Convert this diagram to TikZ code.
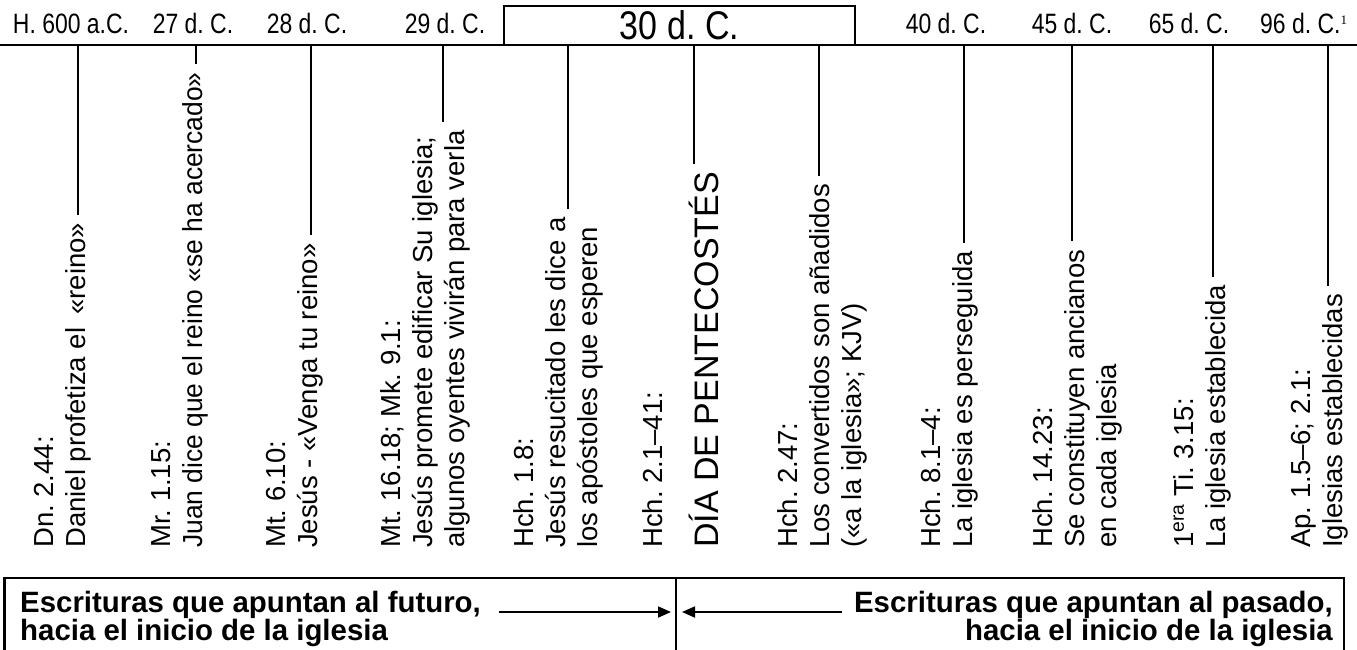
\documentclass[tikz,border=0pt]{standalone}
\usepackage{fontspec}
\setmainfont{Liberation Sans}
\newfontfamily\narrowfont[FakeStretch=0.82]{Liberation Sans}
\newfontfamily\bignarrow[FakeStretch=0.85]{Liberation Sans}
\newfontfamily\mrfont[FakeStretch=0.96]{Liberation Sans}
\newfontfamily\supfont{Liberation Serif}
\usetikzlibrary{arrows.meta}
\frenchspacing
\begin{document}
\begin{tikzpicture}[x=1pt,y=-1pt,
  datelbl/.style={inner sep=0pt, anchor=base, font=\narrowfont\fontsize{28}{32}\selectfont},
  vtext/.style={inner sep=0pt, anchor=base west, rotate=90, font=\fontsize{27.5}{32}\selectfont},
  bigv/.style={vtext, font=\fontsize{34}{40}\selectfont},
  tickline/.style={line width=1.7pt, shorten >=8pt},
  ruleline/.style={line width=1.8pt},
  boxline/.style={line width=2.2pt},
  bottomtxt/.style={inner sep=0pt, font=\bfseries\fontsize{29.4}{28}\selectfont},
  arr/.style={line width=1.8pt, -{Triangle[length=13pt,width=11pt]}}
]
\fill[white] (0,0) rectangle (1357,649);
\useasboundingbox (0,0) rectangle (1357,649);

% top rule
\coordinate (rl) at (0,45);
\coordinate (rr) at (1357,45);
\draw[ruleline] (rl) -- (rr);

% date labels
\node[datelbl] (d1) at (71,33) {H. 600 a.C.};
\node[datelbl] (d2) at (193,33) {27 d. C.};
\node[datelbl] (d3) at (307,33) {28 d. C.};
\node[datelbl] (d4) at (445,33) {29 d. C.};
\node[draw, line width=1.8pt, minimum width=351pt, minimum height=39pt, inner sep=0pt,
      font=\bignarrow\fontsize{40}{44}\selectfont] (d5) at (679.5,25.5) {30 d. C.};
\node[datelbl] (d6) at (946,33) {40 d. C.};
\node[datelbl] (d7) at (1072,33) {45 d. C.};
\node[datelbl] (d8) at (1189,33) {65 d. C.};
\node[datelbl, anchor=base west] (d9) at (1260,33) {96 d. C.\raisebox{9pt}{\supfont\fontsize{13}{13}\selectfont 1}};

% vertical texts
\node[vtext] (c1a) at (53,548) {Dn. 2.44:};
\node[vtext] (c1b) at (85,548) {Daniel profetiza el\hspace{0.2em} «reino»};
\node[vtext] (c2a) at (170,548) {Mr. 1.15:};
\node[vtext] (c2b) at (202,548) {\mrfont Juan dice que el reino «se ha acercado»};
\node[vtext] (c3a) at (285,548) {Mt. 6.10:};
\node[vtext] (c3b) at (317,548) {Jesús - «Venga tu reino»};
\node[vtext] (c4a) at (400,548) {Mt. 16.18; Mk. 9.1:};
\node[vtext] (c4b) at (432,548) {Jesús promete edificar Su iglesia;};
\node[vtext] (c4c) at (464,548) {algunos oyentes vivirán para verla};
\node[vtext] (c5a) at (533,548) {Hch. 1.8:};
\node[vtext] (c5b) at (565,548) {Jesús resucitado les dice a};
\node[vtext] (c5c) at (597,548) {los apóstoles que esperen};
\node[vtext] (c6a) at (662,548) {Hch. 2.1–41:};
\node[bigv] (c6b) at (718,548) {DÍA DE PENTECOSTÉS};
\node[vtext] (c7a) at (797,548) {Hch. 2.47:};
\node[vtext] (c7b) at (829,548) {Los convertidos son añadidos};
\node[vtext] (c7c) at (861,548) {(«a la iglesia»; KJV)};
\node[vtext] (c8a) at (940,548) {Hch. 8.1–4:};
\node[vtext] (c8b) at (972,548) {La iglesia es perseguida};
\node[vtext] (c9a) at (1052,548) {Hch. 14.23:};
\node[vtext] (c9b) at (1084,548) {Se constituyen ancianos};
\node[vtext] (c9c) at (1116,548) {en cada iglesia};
\node[vtext] (c10a) at (1193,548) {1\textsuperscript{era} Ti. 3.15:};
\node[vtext] (c10b) at (1225,548) {La iglesia establecida};
\node[vtext] (c11a) at (1310,548) {Ap. 1.5–6; 2.1:};
\node[vtext] (c11b) at (1342,548) {Iglesias establecidas};

% ticks
\coordinate (t1) at (78,45);
\coordinate (t2) at (196,45);
\coordinate (t3) at (311,45);
\coordinate (t4) at (443,45);
\coordinate (t5) at (568,45);
\coordinate (t6) at (694,45);
\coordinate (t7) at (819,45);
\coordinate (t8) at (964,45);
\coordinate (t9) at (1072,45);
\coordinate (t10) at (1213,45);
\coordinate (t11) at (1328,45);
\draw[tickline] (t1) -- (t1 |- c1b.east);
\draw[tickline] (t2) -- (t2 |- c2b.east);
\draw[tickline] (t3) -- (t3 |- c3b.east);
\draw[tickline] (t4) -- (t4 |- c4c.east);
\draw[tickline] (t5) -- (t5 |- c5b.east);
\draw[tickline] (t6) -- (t6 |- c6b.east);
\draw[tickline] (t7) -- (t7 |- c7b.east);
\draw[tickline] (t8) -- (t8 |- c8b.east);
\draw[tickline] (t9) -- (t9 |- c9b.east);
\draw[tickline] (t10) -- (t10 |- c10b.east);
\draw[tickline] (t11) -- (t11 |- c11b.east);

% bottom box
\coordinate (bxtl) at (4.5,578);
\coordinate (bxbr) at (1344,652);
\draw[boxline] (bxtl) rectangle (bxbr);
\coordinate (divt) at (676,578);
\coordinate (divb) at (676,652);
\draw[boxline] (divt) -- (divb);

\node[bottomtxt, anchor=base west] (l1) at (20,612) {Escrituras que apuntan al futuro,};
\node[bottomtxt, anchor=base west] (l2) at (20,640) {hacia el inicio de la iglesia};
\node[bottomtxt, anchor=base east] (r1) at (1333,612) {Escrituras que apuntan al pasado,};
\node[bottomtxt, anchor=base east] (r2) at (1333,640) {hacia el inicio de la iglesia};

\coordinate (la1) at (499,612);
\coordinate (la2) at (671,612);
\coordinate (ra1) at (842,612);
\coordinate (ra2) at (682,612);
\draw[arr] (la1) -- (la2);
\draw[arr] (ra1) -- (ra2);
\end{tikzpicture}
\end{document}
